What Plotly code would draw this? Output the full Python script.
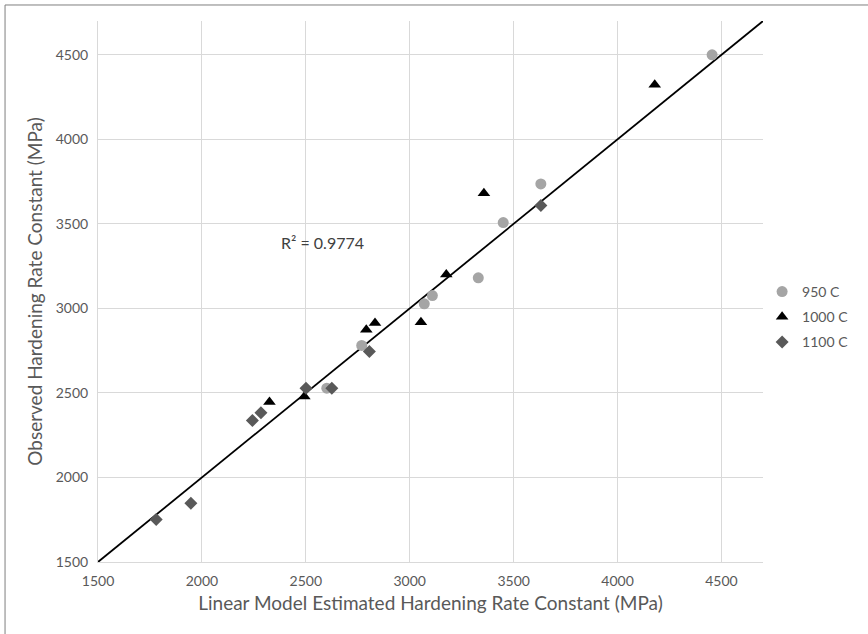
import plotly.graph_objects as go

# ---- data ----
x_950 = [4455, 3631, 3450, 3330, 3109, 3070, 2769, 2601]
y_950 = [4500, 3736, 3508, 3181, 3076, 3027, 2781, 2528]

x_1000 = [4179, 3357, 3176, 3054, 2833, 2791, 2493, 2325]
y_1000 = [4323, 3681, 3200, 2918, 2913, 2874, 2479, 2446]

x_1100 = [3631, 2806, 2625, 2501, 2284, 2243, 1947, 1780]
y_1100 = [3608, 2745, 2528, 2528, 2383, 2337, 1847, 1752]

series_names = ["950 C", "1000 C", "1100 C"]

trend_slope = 1.0
trend_intercept = 0.0
trend_x = [1500, 4700]
r2_text = "R² = 0.9774"

axis_range = [1500, 4700]
tick_vals = [1500, 2000, 2500, 3000, 3500, 4000, 4500]

FONT = "Lato, 'Open Sans', sans-serif"
TXT = "#595959"

fig = go.Figure()

fig.add_trace(go.Scatter(
    x=trend_x, y=[trend_slope * v + trend_intercept for v in trend_x],
    mode="lines", line=dict(color="black", width=1.8),
    showlegend=False, hoverinfo="skip", cliponaxis=True))

fig.add_trace(go.Scatter(
    x=x_950, y=y_950, mode="markers", name=series_names[0], legendgroup="a",
    marker=dict(symbol="circle", size=11, color="#A5A5A5", line=dict(width=0))))
fig.add_trace(go.Scatter(
    x=x_1000, y=y_1000, mode="markers", name=series_names[1], legendgroup="b",
    marker=dict(symbol="triangle-up", size=11, color="#000000", line=dict(width=0))))
fig.add_trace(go.Scatter(
    x=x_1100, y=y_1100, mode="markers", name=series_names[2], legendgroup="c",
    marker=dict(symbol="diamond", size=10, color="#595959", line=dict(width=0))))

axis_common = dict(
    range=axis_range, tickvals=tick_vals, showgrid=True, gridcolor="#D9D9D9",
    gridwidth=1, zeroline=False, showline=True, linecolor="#D9D9D9", linewidth=1,
    ticks="outside", ticklen=6, tickcolor="rgba(0,0,0,0)",
    tickfont=dict(family=FONT, size=14, color=TXT),
)

fig.update_layout(
    width=868, height=634,
    margin=dict(l=98, r=105, t=21, b=72, autoexpand=False),
    paper_bgcolor="white", plot_bgcolor="white",
    font=dict(family=FONT, color=TXT),
    xaxis=dict(**axis_common,
               title=dict(text="Linear Model Estimated Hardening Rate Constant (MPa)",
                          font=dict(family=FONT, size=19, color=TXT), standoff=8)),
    yaxis=dict(**axis_common,
               title=dict(text="Observed Hardening Rate Constant (MPa)",
                          font=dict(family=FONT, size=19, color=TXT), standoff=8)),
    legend=dict(xref="container", yref="container", x=0.878, y=0.5,
                xanchor="left", yanchor="middle",
                font=dict(family=FONT, size=14, color=TXT),
                tracegroupgap=4, itemwidth=30, bgcolor="rgba(0,0,0,0)"),
    annotations=[dict(x=2580, y=3392, xref="x", yref="y", text=r2_text,
                      showarrow=False, font=dict(family=FONT, size=16, color="#404040"))],
    shapes=[dict(type="rect", xref="paper", yref="paper",
                 x0=-0.1398, y0=-0.2, x1=1.4, y1=1.0296,
                 line=dict(color="#7F7F7F", width=1), fillcolor="rgba(0,0,0,0)",
                 layer="below")],
)

fig.write_html("out.html")
